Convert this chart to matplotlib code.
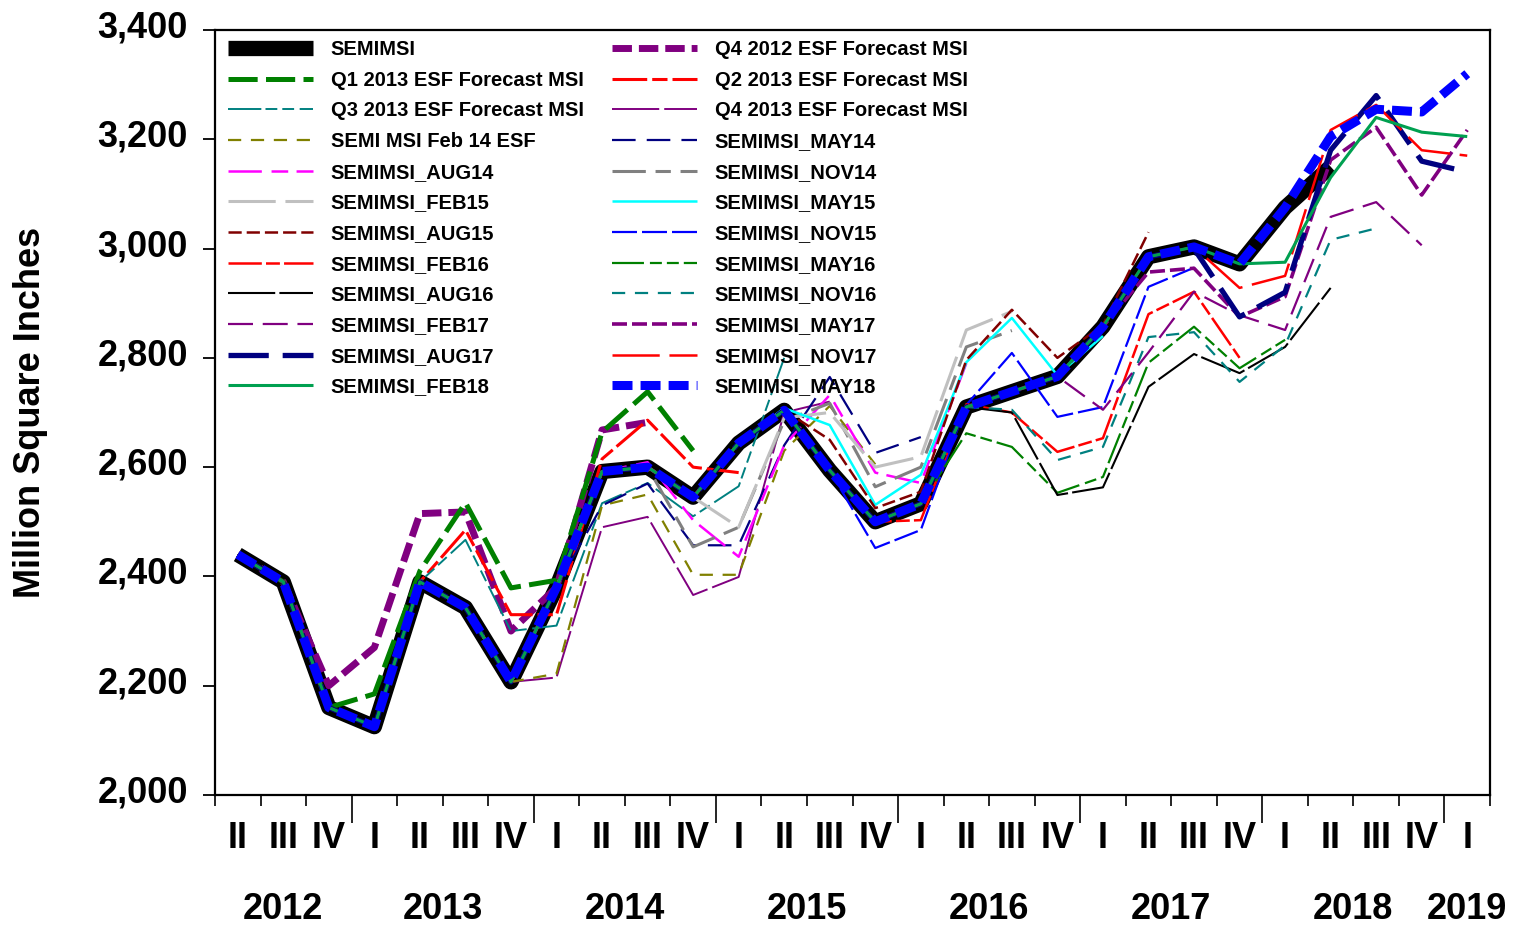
import numpy as np
import pandas as pd
import matplotlib
matplotlib.use('Agg')
import matplotlib.pyplot as plt
from matplotlib.transforms import blended_transform_factory, ScaledTranslation

plt.rcParams['font.family'] = ['Liberation Sans', 'DejaVu Sans']
plt.rcParams['font.weight'] = 'bold'
plt.rcParams['lines.scale_dashes'] = False

quarters = pd.period_range('2012Q2', '2019Q1', freq='Q')

# actual history (million square inches)
semimsi = [2440, 2390, 2160, 2125, 2390, 2343, 2207, 2380, 2592, 2600, 2545, 2644,
           2704, 2594, 2500, 2533, 2710, 2738, 2766, 2857, 2985, 3003, 2972, 3075, 3150]

# each forecast = history up to its first forecast quarter, then these values
q4_2012 = [2200, 2270, 2515, 2518, 2300, 2380, 2668, 2682]
q1_2013 = [2185, 2410, 2535, 2379, 2393, 2664, 2738, 2630]
q2_2013 = [2390, 2485, 2330, 2330, 2615, 2686, 2600, 2590]
q3_2013 = [2467, 2300, 2310, 2534, 2571, 2510, 2565, 2800]
q4_2013 = [2215, 2490, 2509, 2366, 2399, 2700, 2720]
feb14 = [2222, 2530, 2550, 2403, 2403, 2630, 2712, 2605]
may14 = [2530, 2570, 2457, 2457, 2640, 2765, 2626, 2655]
aug14 = [2609, 2503, 2436, 2640, 2732, 2590, 2571, 2790]
nov14 = [2454, 2490, 2685, 2717, 2564, 2600, 2820, 2850]
feb15 = [2490, 2690, 2700, 2600, 2619, 2851, 2885]
may15 = [2708, 2677, 2531, 2586, 2792, 2873, 2768, 2840]
aug15 = [2650, 2525, 2555, 2796, 2888, 2800, 2860, 3030]
nov15 = [2452, 2485, 2714, 2809, 2692, 2710, 2930, 2965]
feb16 = [2503, 2715, 2700, 2628, 2653, 2880, 2921, 2800]
may16 = [2662, 2637, 2553, 2582, 2791, 2857, 2781, 2833]
aug16 = [2700, 2549, 2563, 2747, 2807, 2772, 2820, 2928]
nov16 = [2705, 2613, 2637, 2838, 2847, 2756, 2823, 3016, 3037]
feb17 = [2705, 2810, 2921, 2878, 2851, 3058, 3085, 3006]
may17 = [2957, 2964, 2875, 2912, 3162, 3222, 3098, 3217]
aug17 = [3000, 2875, 2920, 3180, 3280, 3160, 3140]
nov17 = [2928, 2950, 3217, 3263, 3180, 3170]
feb18 = [2975, 3130, 3240, 3213, 3205]
may18 = [3205, 3255, 3250, 3320]

names = ['SEMIMSI', 'Q4 2012 ESF Forecast MSI', 'Q1 2013 ESF Forecast MSI',
         'Q2 2013 ESF Forecast MSI', 'Q3 2013 ESF Forecast MSI', 'Q4 2013 ESF Forecast MSI',
         'SEMI MSI Feb 14 ESF', 'SEMIMSI_MAY14', 'SEMIMSI_AUG14', 'SEMIMSI_NOV14',
         'SEMIMSI_FEB15', 'SEMIMSI_MAY15', 'SEMIMSI_AUG15', 'SEMIMSI_NOV15',
         'SEMIMSI_FEB16', 'SEMIMSI_MAY16', 'SEMIMSI_AUG16', 'SEMIMSI_NOV16',
         'SEMIMSI_FEB17', 'SEMIMSI_MAY17', 'SEMIMSI_AUG17', 'SEMIMSI_NOV17',
         'SEMIMSI_FEB18', 'SEMIMSI_MAY18']
forecasts = [q4_2012, q1_2013, q2_2013, q3_2013, q4_2013, feb14, may14, aug14, nov14,
             feb15, may15, aug15, nov15, feb16, may16, aug16, nov16, feb17, may17,
             aug17, nov17, feb18, may18]
starts = ['2012Q4', '2013Q1', '2013Q2', '2013Q3', '2014Q1', '2014Q1', '2014Q2', '2014Q3',
          '2014Q4', '2015Q1', '2015Q2', '2015Q3', '2015Q4', '2016Q1', '2016Q2', '2016Q3',
          '2016Q3', '2017Q1', '2017Q2', '2017Q3', '2017Q4', '2018Q1', '2018Q2']

# color, linewidth (pt), dash pattern (pt) or None
styles = [
    ('black', 11, None),
    ('#800080', 5.0, (14, 5)),
    ('#008000', 3.6, (21, 6)),
    ('#ff0000', 2.2, (25, 3.6, 11, 3.6)),
    ('#008080', 1.4, (24, 3, 8.5, 3.6, 8.5, 4)),
    ('#800080', 1.4, (34, 3.6)),
    ('#808000', 1.6, (9.5, 7)),
    ('#000080', 1.6, (17, 8)),
    ('#ff00ff', 1.8, (24, 7, 12, 6)),
    ('#808080', 2.2, (24, 7, 11, 7)),
    ('#c0c0c0', 2.2, (34, 7)),
    ('#00ffff', 1.8, None),
    ('#800000', 1.8, (9.5, 3.6)),
    ('#0000ff', 1.6, (18, 3.6)),
    ('#ff0000', 1.8, (24, 3, 10, 3)),
    ('#008000', 1.6, (23, 4.3, 8.6, 3.6, 8.6, 3.6)),
    ('black', 1.5, (34, 3)),
    ('#008080', 1.6, (9.5, 7)),
    ('#800080', 1.6, (18, 7)),
    ('#800080', 2.6, (10.8, 3.6)),
    ('#000080', 3.8, (29, 10)),
    ('#ff0000', 1.8, (34, 7)),
    ('#00a050', 2.2, None),
    ('#0000ff', 6.5, (14.4, 5.8)),
]

n = len(quarters)
x = np.arange(n)
series = [np.array(semimsi + [np.nan] * (n - len(semimsi)), dtype=float)]
for tail, s in zip(forecasts, starts):
    k = quarters.get_loc(pd.Period(s, freq='Q'))
    vals = semimsi[:k] + tail
    series.append(np.array(vals + [np.nan] * (n - len(vals)), dtype=float))

fig = plt.figure(figsize=(15.19, 9.30), dpi=100)
ax = fig.add_axes([215 / 1519, 135 / 930, 1275 / 1519, 765 / 930])

handles = []
for y, name, (c, lw, d) in zip(series, names, styles):
    ln, = ax.plot(x, y, color=c, lw=lw, label=name, solid_joinstyle='round',
                  solid_capstyle='butt', dash_capstyle='butt')
    if d is not None:
        ln.set_dashes(d)
    handles.append(ln)

ax.set_xlim(-0.5, n - 0.5)
ax.set_ylim(2000, 3400)
ax.set_yticks(np.arange(2000, 3401, 200))
ax.set_yticklabels([f'{v:,}' for v in range(2000, 3401, 200)])
ax.tick_params(axis='y', length=9, width=1.3, pad=10.5, labelsize=26)
up = ScaledTranslation(0, 0.06, fig.dpi_scale_trans)
for lab in ax.get_yticklabels():
    lab.set_transform(lab.get_transform() + up)
for sp in ax.spines.values():
    sp.set_linewidth(1.6)

# x axis: quarter boundaries, longer ticks at year boundaries
bounds = np.arange(n + 1) - 0.5
year_bounds = [i - 0.5 for i, q in enumerate(quarters) if q.quarter == 1]
ax.set_xticks(year_bounds)
ax.set_xticklabels([])
ax.set_xticks(bounds, minor=True)
ax.tick_params(axis='x', which='major', length=20, width=1.2)
ax.tick_params(axis='x', which='minor', length=8, width=1.2)

roman = {1: 'I', 2: 'II', 3: 'III', 4: 'IV'}
tr = blended_transform_factory(ax.transData, ax.transAxes)
for i, q in enumerate(quarters):
    ax.text(i, -0.057, roman[q.quarter], transform=tr, ha='center', va='center',
            fontsize=26, fontweight='bold')
for yr in sorted(set(q.year for q in quarters)):
    pos = [i for i, q in enumerate(quarters) if q.year == yr]
    ax.text(np.mean(pos), -0.150, str(yr), transform=tr, ha='center', va='center',
            fontsize=26, fontweight='bold')

ax.set_ylabel('Million Square Inches', fontsize=26, fontweight='bold')
ax.yaxis.set_label_coords(-0.131, 0.5)

leg_kw = dict(loc='upper left', frameon=False, fontsize=14.5, handlelength=4.2,
              handletextpad=0.9, labelspacing=0.58, borderpad=0, borderaxespad=0)
leg1 = ax.legend(handles[0::2], names[0::2], bbox_to_anchor=(0.0102, 0.987), **leg_kw)
ax.add_artist(leg1)
ax.legend(handles[1::2], names[1::2], bbox_to_anchor=(0.3114, 0.987), **leg_kw)

fig.savefig('out.png', dpi=100)
